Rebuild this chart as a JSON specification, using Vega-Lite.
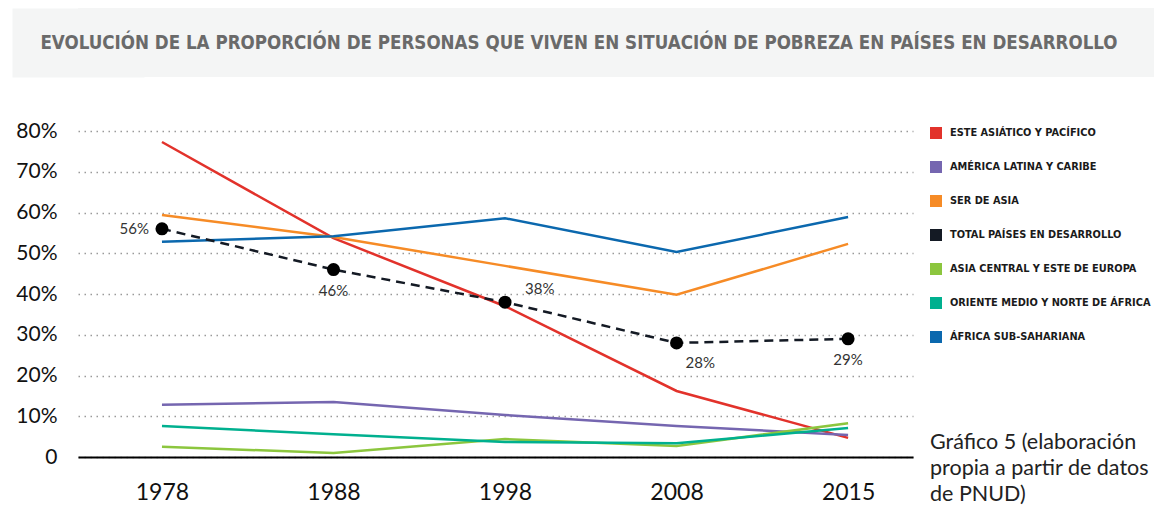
{
  "$schema": "https://vega.github.io/schema/vega-lite/v6.json",
  "padding": {"left": 12, "top": 8, "right": 0, "bottom": 0},
  "background": "white",
  "spacing": 43,
  "resolve": {"scale": {"color": "independent"}, "legend": {"color": "independent"}},
  "config": {"view": {"stroke": null}},
  "vconcat": [
    {
      "width": 1076,
      "height": 69,
      "view": {"fill": "#F4F5F5", "stroke": null},
      "data": {"values": [{"titulo": "EVOLUCIÓN DE LA PROPORCIÓN DE PERSONAS QUE VIVEN EN SITUACIÓN DE POBREZA EN PAÍSES EN DESARROLLO"}]},
      "mark": {"type": "text", "font": "DejaVu Sans Condensed, Liberation Sans Narrow, Roboto, sans-serif", "fontWeight": "bold", "fontSize": 18.6, "color": "#6a6a6a", "baseline": "middle", "align": "center", "dx": -37},
      "encoding": {
        "text": {"field": "titulo"},
        "y": {
          "field": "titulo",
          "type": "nominal",
          "axis": {"title": null, "labels": false, "ticks": false, "grid": false, "domain": true, "domainColor": "#F4F5F5", "domainWidth": 132, "zindex": 0}
        }
      }
    },
    {
      "width": 835,
      "height": 326,
      "title": {
        "text": ["Gráfico 5 (elaboración", "propia a partir de datos", "de PNUD)"],
        "orient": "bottom",
        "anchor": "end",
        "frame": "group",
        "align": "left",
        "baseline": "top",
        "dx": 17,
        "offset": -72,
        "font": "Lato",
        "fontSize": 21.5,
        "fontWeight": "normal",
        "color": "#222222",
        "lineHeight": 26
      },
      "data": {
        "values": [
          {"serie": "ESTE ASIÁTICO Y PACÍFICO", "anio": "1978", "valor": 0.773},
          {"serie": "ESTE ASIÁTICO Y PACÍFICO", "anio": "1988", "valor": 0.537},
          {"serie": "ESTE ASIÁTICO Y PACÍFICO", "anio": "1998", "valor": 0.37},
          {"serie": "ESTE ASIÁTICO Y PACÍFICO", "anio": "2008", "valor": 0.162},
          {"serie": "ESTE ASIÁTICO Y PACÍFICO", "anio": "2015", "valor": 0.047},
          {"serie": "AMÉRICA LATINA Y CARIBE", "anio": "1978", "valor": 0.128},
          {"serie": "AMÉRICA LATINA Y CARIBE", "anio": "1988", "valor": 0.135},
          {"serie": "AMÉRICA LATINA Y CARIBE", "anio": "1998", "valor": 0.103},
          {"serie": "AMÉRICA LATINA Y CARIBE", "anio": "2008", "valor": 0.076},
          {"serie": "AMÉRICA LATINA Y CARIBE", "anio": "2015", "valor": 0.054},
          {"serie": "SER DE ASIA", "anio": "1978", "valor": 0.594},
          {"serie": "SER DE ASIA", "anio": "1988", "valor": 0.54},
          {"serie": "SER DE ASIA", "anio": "1998", "valor": 0.469},
          {"serie": "SER DE ASIA", "anio": "2008", "valor": 0.398},
          {"serie": "SER DE ASIA", "anio": "2015", "valor": 0.523},
          {"serie": "TOTAL PAÍSES EN DESARROLLO", "anio": "1978", "valor": 0.56},
          {"serie": "TOTAL PAÍSES EN DESARROLLO", "anio": "1988", "valor": 0.46},
          {"serie": "TOTAL PAÍSES EN DESARROLLO", "anio": "1998", "valor": 0.38},
          {"serie": "TOTAL PAÍSES EN DESARROLLO", "anio": "2008", "valor": 0.28},
          {"serie": "TOTAL PAÍSES EN DESARROLLO", "anio": "2015", "valor": 0.29},
          {"serie": "ASIA CENTRAL Y ESTE DE EUROPA", "anio": "1978", "valor": 0.025},
          {"serie": "ASIA CENTRAL Y ESTE DE EUROPA", "anio": "1988", "valor": 0.01},
          {"serie": "ASIA CENTRAL Y ESTE DE EUROPA", "anio": "1998", "valor": 0.044},
          {"serie": "ASIA CENTRAL Y ESTE DE EUROPA", "anio": "2008", "valor": 0.027},
          {"serie": "ASIA CENTRAL Y ESTE DE EUROPA", "anio": "2015", "valor": 0.083},
          {"serie": "ORIENTE MEDIO Y NORTE DE ÁFRICA", "anio": "1978", "valor": 0.076},
          {"serie": "ORIENTE MEDIO Y NORTE DE ÁFRICA", "anio": "1988", "valor": 0.056},
          {"serie": "ORIENTE MEDIO Y NORTE DE ÁFRICA", "anio": "1998", "valor": 0.037},
          {"serie": "ORIENTE MEDIO Y NORTE DE ÁFRICA", "anio": "2008", "valor": 0.034},
          {"serie": "ORIENTE MEDIO Y NORTE DE ÁFRICA", "anio": "2015", "valor": 0.071},
          {"serie": "ÁFRICA SUB-SAHARIANA", "anio": "1978", "valor": 0.528},
          {"serie": "ÁFRICA SUB-SAHARIANA", "anio": "1988", "valor": 0.542},
          {"serie": "ÁFRICA SUB-SAHARIANA", "anio": "1998", "valor": 0.586},
          {"serie": "ÁFRICA SUB-SAHARIANA", "anio": "2008", "valor": 0.503},
          {"serie": "ÁFRICA SUB-SAHARIANA", "anio": "2015", "valor": 0.589}
        ]
      },
      "encoding": {
        "x": {
          "field": "anio",
          "type": "ordinal",
          "scale": {"type": "point", "padding": 0.434, "align": 0.564},
          "axis": {
            "title": null,
            "labelAngle": 0,
            "ticks": false,
            "domain": true,
            "domainColor": "#000000",
            "domainWidth": 2,
            "labelPadding": 24,
            "labelFont": "Lato",
            "labelFontSize": 23,
            "labelColor": "#111111",
            "labelBaseline": "top",
            "grid": false
          }
        },
        "y": {
          "field": "valor",
          "type": "quantitative",
          "scale": {"domain": [0, 0.8], "nice": false},
          "axis": {
            "title": null,
            "values": [0, 0.1, 0.2, 0.3, 0.4, 0.5, 0.6, 0.7, 0.8],
            "labelExpr": "datum.value == 0 ? '0' : format(datum.value, '.0%')",
            "domain": false,
            "ticks": false,
            "labelPadding": 21,
            "minExtent": 66,
            "maxExtent": 66,
            "labelFont": "Lato",
            "labelFontSize": 21,
            "labelColor": "#111111",
            "grid": true,
            "gridColor": "#9a9a9a",
            "gridWidth": 1.5,
            "gridDash": [1.5, 4.5]
          }
        }
      },
      "layer": [
        {
          "transform": [{"filter": "datum.serie != 'TOTAL PAÍSES EN DESARROLLO'"}],
          "mark": {"type": "line", "strokeWidth": 2.5},
          "encoding": {
            "color": {
              "field": "serie",
              "type": "nominal",
              "scale": {
                "domain": ["ESTE ASIÁTICO Y PACÍFICO", "AMÉRICA LATINA Y CARIBE", "SER DE ASIA", "TOTAL PAÍSES EN DESARROLLO", "ASIA CENTRAL Y ESTE DE EUROPA", "ORIENTE MEDIO Y NORTE DE ÁFRICA", "ÁFRICA SUB-SAHARIANA"],
                "range": ["#E2322B", "#7566B0", "#F68B26", "#141A24", "#8CC63E", "#00B08F", "#0B68AE"]
              },
              "legend": {
                "title": null,
                "orient": "none",
                "legendX": 852,
                "legendY": -4,
                "symbolType": "square",
                "symbolSize": 36,
                "symbolStrokeWidth": 6,
                "symbolDash": [],
                "symbolOpacity": 1,
                "labelFont": "DejaVu Sans Condensed, Liberation Sans Narrow, Roboto, sans-serif",
                "labelFontWeight": "bold",
                "labelFontSize": 10.9,
                "labelColor": "#1a1a1a",
                "labelLimit": 300,
                "labelOffset": 8,
                "rowPadding": 4
              }
            }
          }
        },
        {
          "transform": [{"filter": "datum.serie == 'TOTAL PAÍSES EN DESARROLLO'"}],
          "mark": {"type": "line", "strokeWidth": 2.5, "strokeDash": [9, 6]},
          "encoding": {"color": {"field": "serie", "type": "nominal"}}
        },
        {
          "transform": [{"filter": "datum.serie == 'TOTAL PAÍSES EN DESARROLLO'"}],
          "mark": {"type": "circle", "size": 170, "opacity": 1, "color": "#000000"},
          "encoding": {}
        },
        {
          "transform": [{"filter": "datum.serie == 'TOTAL PAÍSES EN DESARROLLO' && datum.anio == '1978'"}],
          "mark": {"type": "text", "align": "right", "baseline": "middle", "dx": -13, "font": "Lato", "fontSize": 15, "color": "#333333"},
          "encoding": {"text": {"field": "valor", "type": "quantitative", "format": ".0%"}}
        },
        {
          "transform": [{"filter": "datum.serie == 'TOTAL PAÍSES EN DESARROLLO' && (datum.anio == '1988' || datum.anio == '2015')"}],
          "mark": {"type": "text", "align": "center", "baseline": "middle", "dy": 21, "font": "Lato", "fontSize": 15, "color": "#333333"},
          "encoding": {"text": {"field": "valor", "type": "quantitative", "format": ".0%"}}
        },
        {
          "transform": [{"filter": "datum.serie == 'TOTAL PAÍSES EN DESARROLLO' && datum.anio == '1998'"}],
          "mark": {"type": "text", "align": "left", "baseline": "middle", "dx": 20, "dy": -13, "font": "Lato", "fontSize": 15, "color": "#333333"},
          "encoding": {"text": {"field": "valor", "type": "quantitative", "format": ".0%"}}
        },
        {
          "transform": [{"filter": "datum.serie == 'TOTAL PAÍSES EN DESARROLLO' && datum.anio == '2008'"}],
          "mark": {"type": "text", "align": "left", "baseline": "middle", "dx": 9, "dy": 20, "font": "Lato", "fontSize": 15, "color": "#333333"},
          "encoding": {"text": {"field": "valor", "type": "quantitative", "format": ".0%"}}
        }
      ]
    }
  ]
}
